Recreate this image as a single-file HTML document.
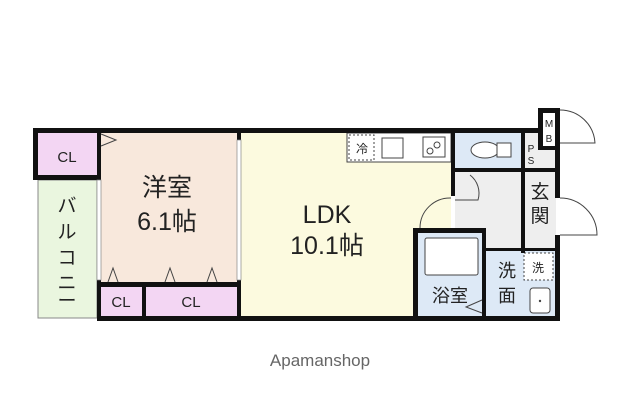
<!DOCTYPE html>
<html><head><meta charset="utf-8"><style>
html,body{margin:0;padding:0;background:#fff;width:640px;height:411px;overflow:hidden}
svg text{font-family:"Liberation Sans","Noto Sans CJK JP",sans-serif;fill:#222}
</style></head><body>
<svg width="640" height="411" viewBox="0 0 640 411" xmlns="http://www.w3.org/2000/svg">
<rect x="36" y="130" width="522" height="188" fill="#fff"/>
<rect x="38" y="133" width="59" height="42" fill="#f3d6f3"/>
<rect x="38" y="180" width="59" height="138" fill="#eaf6df" stroke="#888" stroke-width="1"/>
<rect x="101" y="133" width="136" height="149" fill="#f8e8dc"/>
<rect x="101" y="287" width="41" height="29" fill="#f3d6f3"/>
<rect x="146" y="287" width="91" height="29" fill="#f3d6f3"/>
<rect x="241" y="133" width="172" height="183" fill="#fcfadf"/>
<rect x="413" y="133" width="40" height="95" fill="#fcfadf"/>
<rect x="347" y="133" width="104" height="29" fill="#fff" stroke="#444" stroke-width="1"/>
<rect x="349" y="135" width="25" height="25" fill="#fff" stroke="#444" stroke-dasharray="2,2"/>
<rect x="382" y="138" width="21" height="20" fill="#fff" stroke="#444"/>
<rect x="423" y="137" width="22" height="20" fill="#fff" stroke="#444"/>
<circle cx="430" cy="151" r="3" fill="none" stroke="#444"/><circle cx="437" cy="145" r="3" fill="none" stroke="#444"/>
<rect x="455" y="133" width="68" height="35" fill="#dde9f6"/>
<ellipse cx="485" cy="150" rx="14" ry="8" fill="#fff" stroke="#444"/>
<rect x="497" y="143" width="14" height="14" fill="#fff" stroke="#444"/>
<rect x="525" y="133" width="31" height="35" fill="#eee"/>
<rect x="455" y="172" width="68" height="76" fill="#eee"/>
<rect x="525" y="172" width="31" height="76" fill="#eee"/>
<rect x="418" y="232" width="64" height="84" fill="#dde9f6"/>
<rect x="425" y="238" width="53" height="37" fill="#fff" stroke="#444" rx="2"/>
<rect x="486" y="250" width="70" height="66" fill="#dde9f6"/>
<rect x="524" y="253" width="29" height="27" fill="#fff" stroke="#444" stroke-dasharray="2,2"/>
<rect x="530" y="288" width="20" height="25" fill="#fff" stroke="#444" rx="3"/>
<circle cx="540" cy="301" r="1.2" fill="#444"/>
<g fill="#111">
<rect x="33" y="128" width="510" height="5"/>
<rect x="33" y="128" width="5" height="52"/>
<rect x="33" y="175" width="68" height="5"/>
<rect x="97" y="128" width="4" height="193"/>
<rect x="97" y="316" width="463" height="5"/>
<rect x="101" y="282" width="140" height="5"/>
<rect x="142" y="282" width="4" height="36"/>
<rect x="237" y="128" width="4" height="193"/>
<rect x="451" y="128" width="4" height="68"/>
<rect x="413" y="228" width="72" height="5"/>
<rect x="413" y="228" width="5" height="92"/>
<rect x="482" y="228" width="4" height="92"/>
<rect x="453" y="168" width="105" height="4"/>
<rect x="521" y="128" width="4" height="125"/>
<rect x="538" y="108" width="5" height="42"/>
<rect x="538" y="108" width="22" height="5"/>
<rect x="555" y="108" width="5" height="90"/>
<rect x="555" y="235" width="5" height="86"/>
<rect x="538" y="146" width="22" height="4"/>
<rect x="484" y="248" width="74" height="3"/>
</g>
<rect x="543" y="113" width="12" height="33" fill="#fff"/>
<rect x="97" y="180" width="4" height="100" fill="#fff" stroke="#888" stroke-width="0.7"/>
<rect x="237" y="140" width="4" height="140" fill="#fff" stroke="#888" stroke-width="0.7"/>
<rect x="451" y="196" width="4" height="32" fill="#fff"/>
<g fill="none" stroke="#444" stroke-width="1">
<path d="M560 143 L595 143 A35 35 0 0 0 560 110"/>
<path d="M560 235 L597 235 A37 37 0 0 0 560 198"/>
<path d="M455 200 L478 200 A23 23 0 0 0 470 175"/>
<path d="M451 198 A30 30 0 0 0 420 228"/>
<path d="M101 134 L116 140 L101 146"/>
<path d="M108 282 L113 268 L118 282 M165 282 L170 268 L175 282 M207 282 L212 268 L217 282"/>
<path d="M482 300 L466 307 L482 313"/>
</g>
<text x="67" y="162" font-size="15" text-anchor="middle">CL</text>
<text x="121" y="307" font-size="15" text-anchor="middle">CL</text>
<text x="191" y="307" font-size="15" text-anchor="middle">CL</text>
<g font-size="19" text-anchor="middle"><text x="67" y="212">バ</text><text x="67" y="238">ル</text><text x="67" y="264">コ</text><text x="67" y="289">ニ</text><text x="67" y="307">ー</text></g>
<text x="167" y="196" font-size="25" text-anchor="middle">洋室</text>
<text x="167" y="230" font-size="25" text-anchor="middle">6.1帖</text>
<text x="327" y="223" font-size="25" text-anchor="middle">LDK</text>
<text x="327" y="254" font-size="25" text-anchor="middle">10.1帖</text>
<text x="362" y="153" font-size="12" text-anchor="middle">冷</text>
<text x="538" y="272" font-size="12" text-anchor="middle">洗</text>
<text x="540" y="198" font-size="19" text-anchor="middle">玄</text>
<text x="540" y="222" font-size="19" text-anchor="middle">関</text>
<text x="450" y="302" font-size="18" text-anchor="middle">浴室</text>
<text x="507" y="277" font-size="18" text-anchor="middle">洗</text>
<text x="507" y="302" font-size="18" text-anchor="middle">面</text>
<text x="531" y="152" font-size="10" text-anchor="middle">P</text>
<text x="531" y="164" font-size="10" text-anchor="middle">S</text>
<text x="549" y="127" font-size="10" text-anchor="middle">M</text>
<text x="549" y="142" font-size="10" text-anchor="middle">B</text>
<text x="320" y="366" font-size="17" text-anchor="middle" style="fill:#666">Apamanshop</text>
</svg>
</body></html>
